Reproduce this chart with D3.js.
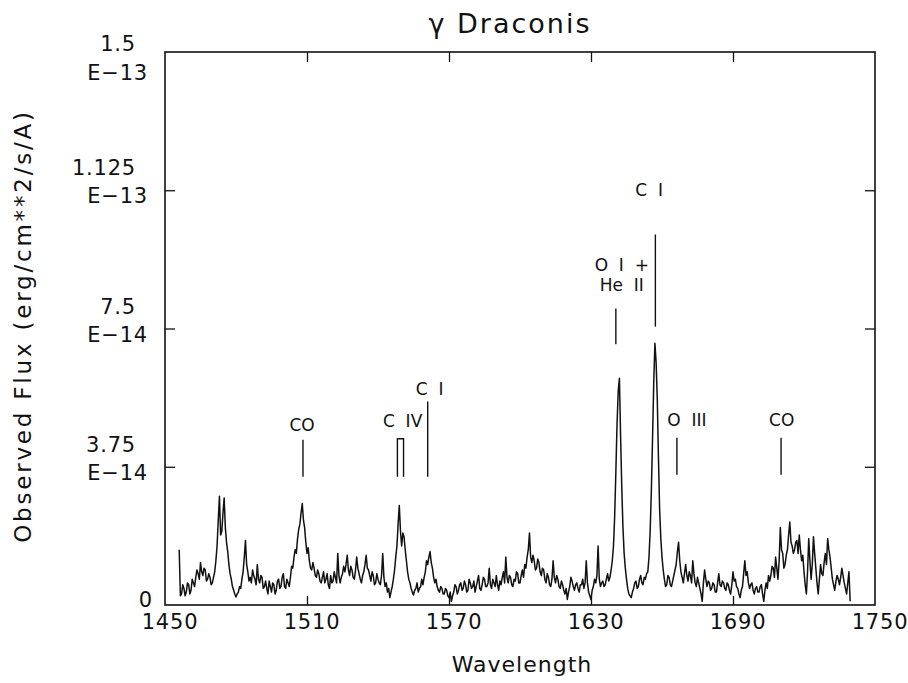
<!DOCTYPE html>
<html>
<head>
<meta charset="utf-8">
<script src="https://cdn.jsdelivr.net/npm/d3@7"></script>
<style>
  html, body { margin: 0; padding: 0; background: #fff; }
  svg { display: block; }
  text { font-family: "DejaVu Sans", sans-serif; fill: #111; }
</style>
</head>
<body>
<svg id="chart" width="908" height="683"></svg>
<script>
// ---------- DATA ----------
const chartTitle = "\u03b3 Draconis";
const xTitle = "Wavelength";
const yTitle = "Observed Flux (erg/cm**2/s/A)";

// sampling grid of the spectrum (Angstrom)
const wavelengths = d3.range(1456, 1740, 0.5);
// observed flux, in units of 1e-14 erg/cm^2/s/A
const flux = [
  1.5, 0.25, 0.3, 0.55, 0.45, 0.25, 0.35, 0.6, 0.55, 0.3, 0.4, 0.7, 0.6, 0.5, 0.75, 0.95, 0.85, 0.7, 1.15, 0.9,
  0.8, 1.0, 0.95, 0.65, 0.7, 0.85, 0.75, 0.55, 0.6, 0.75, 0.9, 1.2, 1.6, 2.3, 2.95, 1.9, 2.0, 2.5, 2.9, 2.1,
  1.7, 1.45, 1.1, 0.85, 0.7, 0.5, 0.4, 0.3, 0.22, 0.3, 0.35, 0.5, 0.45, 0.7, 0.9, 1.3, 1.75, 1.1, 0.9, 0.65,
  0.75, 0.6, 0.95, 0.8, 0.7, 0.55, 1.1, 0.7, 0.6, 0.8, 0.75, 0.45, 0.5, 0.65, 0.45, 0.3, 0.65, 0.5, 0.35, 0.6,
  0.55, 0.3, 0.4, 0.65, 0.7, 0.45, 0.5, 0.75, 0.85, 0.5, 0.45, 0.7, 0.6, 0.5, 0.75, 1.05, 1.0, 1.3, 1.5, 1.4,
  1.8, 2.05, 2.2, 2.5, 2.75, 2.3, 2.1, 1.7, 1.4, 1.55, 1.2, 1.0, 0.95, 1.15, 1.0, 0.8, 0.75, 0.95, 0.85, 0.65,
  0.6, 0.75, 0.9, 0.6, 0.7, 0.85, 0.55, 0.45, 0.8, 0.6, 0.65, 0.9, 0.75, 0.6, 1.4, 0.8, 0.6, 0.75, 0.85, 1.05,
  0.9, 1.1, 1.35, 0.95, 0.8, 1.05, 0.95, 0.75, 0.7, 0.95, 1.3, 1.0, 0.85, 0.7, 0.6, 0.8, 0.9, 1.1, 1.35, 1.0,
  0.95, 0.8, 0.65, 0.9, 0.8, 0.55, 0.6, 0.85, 0.7, 0.6, 0.55, 0.8, 1.4, 0.75, 0.5, 0.6, 0.35, 0.45, 0.2, 0.35,
  0.5, 0.7, 0.95, 1.3, 1.6, 2.2, 2.7, 2.0, 1.6, 1.95, 1.85, 1.5, 1.2, 0.9, 0.7, 0.6, 0.45, 0.35, 0.27, 0.4,
  0.45, 0.6, 0.35, 0.45, 0.5, 0.7, 0.55, 0.75, 0.9, 1.2, 1.1, 1.3, 1.45, 1.15, 1.0, 0.75, 0.6, 0.7, 0.5, 0.4,
  0.35, 0.5, 0.45, 0.3, 0.3, 0.45, 0.4, 0.25, 0.2, 0.35, 0.1, 0.25, 0.35, 0.55, 0.5, 0.3, 0.4, 0.55, 0.6, 0.4,
  0.45, 0.65, 0.55, 0.35, 0.4, 0.7, 0.6, 0.45, 0.5, 0.65, 0.35, 0.5, 0.65, 0.8, 0.45, 0.4, 0.55, 0.75, 0.7, 0.5,
  0.5, 0.6, 1.0, 0.55, 0.45, 0.7, 0.6, 0.5, 0.8, 0.55, 0.4, 0.65, 0.55, 0.75, 0.9, 0.6, 1.3, 0.75, 0.6, 0.8,
  0.75, 0.55, 0.5, 0.7, 0.65, 0.9, 0.85, 0.6, 0.6, 0.8, 0.95, 0.75, 1.1, 1.0, 1.3, 1.5, 1.95, 1.3, 1.15, 1.35,
  1.2, 0.95, 1.0, 1.25, 1.15, 0.9, 0.8, 1.0, 0.95, 0.7, 0.6, 0.85, 0.75, 0.55, 0.5, 0.7, 1.2, 0.75, 0.6, 0.8,
  0.7, 0.5, 0.45, 0.65, 0.55, 0.4, 0.3, 0.45, 0.15, 0.35, 0.5, 0.75, 0.65, 0.5, 0.4, 0.55, 0.6, 0.45, 0.35, 0.55,
  0.55, 0.7, 0.45, 0.6, 1.2, 0.6, 0.35, 0.25, 0.15, 0.4, 0.5, 0.7, 0.6, 0.8, 1.6, 0.7, 0.5, 0.6, 0.65, 0.5,
  0.55, 0.7, 0.85, 0.65, 0.75, 0.95, 1.2, 1.6, 2.4, 3.6, 4.9, 5.8, 6.15, 4.6, 3.2, 2.1, 1.4, 1.0, 0.7, 0.45,
  0.3, 0.25, 0.2, 0.35, 0.45, 0.6, 0.65, 0.45, 0.5, 0.7, 0.8, 0.6, 0.55, 0.75, 0.7, 0.85, 0.9, 1.3, 2.0, 3.1,
  4.5, 6.0, 7.1, 6.6, 5.6, 4.0, 2.6, 1.8, 1.3, 0.95, 0.7, 0.5, 0.55, 0.8, 0.75, 0.55, 0.5, 0.65, 0.8, 0.95,
  1.1, 1.45, 1.7, 1.2, 0.9, 0.75, 0.6, 0.85, 1.1, 0.8, 0.65, 0.9, 0.8, 0.6, 1.2, 0.85, 0.6, 0.5, 0.75, 0.6,
  0.45, 0.3, 0.1, 0.6, 0.95, 0.7, 0.5, 0.65, 0.6, 0.4, 0.45, 0.6, 0.55, 0.35, 0.35, 0.6, 0.85, 0.55, 0.5, 0.65,
  0.6, 0.45, 0.4, 0.6, 0.55, 0.4, 0.3, 0.55, 0.9, 0.65, 0.7, 0.5, 0.45, 0.3, 0.2, 0.4, 0.5, 0.85, 1.2, 0.8,
  0.9, 0.6, 0.45, 0.55, 0.6, 0.4, 0.3, 0.45, 0.5, 0.35, 0.35, 0.5, 0.55, 0.3, 0.1, 0.4, 0.6, 0.45, 0.8, 0.65,
  0.8, 1.05, 1.0, 0.75, 1.3, 1.0, 0.7, 1.2, 2.1, 1.5, 1.4, 1.0, 1.1, 1.35, 1.5, 1.9, 2.25, 1.7, 1.6, 1.4,
  1.5, 1.7, 1.75, 1.4, 1.9, 1.5, 1.2, 1.35, 0.9, 0.55, 0.3, 0.9, 1.8, 1.2, 0.7, 1.1, 1.85, 1.4, 1.0, 0.6,
  0.3, 0.7, 1.1, 0.85, 0.8, 1.15, 1.4, 1.1, 1.8, 1.5, 1.3, 1.0, 0.7, 0.55, 0.4, 0.65, 0.8, 0.7, 0.55, 0.75,
  1.0, 0.8, 0.6, 0.45, 0.3, 0.6, 0.9, 0.1
];

const xTicks = [1450, 1510, 1570, 1630, 1690, 1750];
const yTicks = [0, 3.75, 7.5, 11.25, 15];            // units of 1e-14
const yTickMantissa = ["0", "3.75", "7.5", "1.125", "1.5"];
const yTickExponent = ["", "E\u221214", "E\u221214", "E\u221213", "E\u221213"];

// line identifications: marker wavelength(s), marker extent (flux), label text, label anchor (wavelength, flux)
const lineIds = [
  { name: ["CO"],            lam: [1508.3],          f0: 3.48, f1: 4.48, labLam: 1507.9, labF: [4.89] },
  { name: ["C  IV"],         lam: [1548.2, 1550.8],  f0: 3.48, f1: 4.51, labLam: 1550.4, labF: [5.0] },
  { name: ["C  I"],          lam: [1561.0],          f0: 3.48, f1: 5.52, labLam: 1561.8, labF: [5.87] },
  { name: ["O  I  +", "He  II"], lam: [1640.5],      f0: 7.07, f1: 8.04, labLam: 1643.0, labF: [9.21, 8.67] },
  { name: ["C  I"],          lam: [1657.2],          f0: 7.55, f1: 10.05, labLam: 1654.6, labF: [11.25] },
  { name: ["O  III"],        lam: [1666.3],          f0: 3.53, f1: 4.54, labLam: 1670.5, labF: [5.03] },
  { name: ["CO"],            lam: [1710.3],          f0: 3.53, f1: 4.54, labLam: 1710.6, labF: [5.03] }
];

// ---------- CHART ----------
const svg = d3.select("#chart");
const L = 165, R = 875, T = 52, B = 605;
const x = d3.scaleLinear().domain([1450, 1750]).range([L, R]);
const y = d3.scaleLinear().domain([0, 15]).range([B, T]);

// title
svg.append("text").attr("x", 510).attr("y", 33).attr("text-anchor", "middle")
  .style("font-size", "27px").style("letter-spacing", "2px").text(chartTitle);

// spectrum
const line = d3.line().x((d, i) => x(wavelengths[i])).y(d => y(d));
svg.append("path").datum(flux).attr("d", line)
  .attr("fill", "none").attr("stroke", "#111").attr("stroke-width", 1.5)
  .attr("stroke-linejoin", "round");

// frame
svg.append("rect").attr("x", L).attr("y", T).attr("width", R - L).attr("height", B - T)
  .attr("fill", "none").attr("stroke", "#111").attr("stroke-width", 1.6);

// axes ticks (inward)
function styleAxis(g) {
  g.select(".domain").remove();
  g.selectAll(".tick line").attr("stroke", "#111").attr("stroke-width", 1.3);
}
const innerX = xTicks.slice(1, -1);
const innerY = yTicks.slice(1, -1);
svg.append("g").attr("transform", `translate(0,${B})`)
  .call(d3.axisBottom(x).tickValues(innerX).tickSizeInner(-9).tickSizeOuter(0).tickFormat(""))
  .call(styleAxis);
svg.append("g").attr("transform", `translate(0,${T})`)
  .call(d3.axisTop(x).tickValues(innerX).tickSizeInner(-10).tickSizeOuter(0).tickFormat(""))
  .call(styleAxis);
svg.append("g").attr("transform", `translate(${L},0)`)
  .call(d3.axisLeft(y).tickValues(innerY).tickSizeInner(-10).tickSizeOuter(0).tickFormat(""))
  .call(styleAxis);
svg.append("g").attr("transform", `translate(${R},0)`)
  .call(d3.axisRight(y).tickValues(innerY).tickSizeInner(-10).tickSizeOuter(0).tickFormat(""))
  .call(styleAxis);

// x tick labels
svg.append("g").selectAll("text").data(xTicks).join("text")
  .attr("x", d => x(d) + 5).attr("y", 629).attr("text-anchor", "middle")
  .style("font-size", "21px").style("letter-spacing", "0.8px").text(d => d);

// y tick labels (two lines)
const yl = svg.append("g");
yTicks.forEach((v, i) => {
  const py = y(v);
  if (i === 0) {
    yl.append("text").attr("x", 152).attr("y", py + 2).attr("text-anchor", "end")
      .style("font-size", "21px").text(yTickMantissa[i]);
    return;
  }
  const top = i === yTicks.length - 1 ? py - 1 : py - 15;
  const bot = i === yTicks.length - 1 ? py + 28 : py + 13;
  yl.append("text").attr("x", 136).attr("y", top).attr("text-anchor", "end")
    .style("font-size", "21px").style("letter-spacing", "0.8px").text(yTickMantissa[i]);
  yl.append("text").attr("x", 148).attr("y", bot).attr("text-anchor", "end")
    .style("font-size", "21px").style("letter-spacing", "0.8px").text(yTickExponent[i]);
});

// axis titles
svg.append("text").attr("x", 522).attr("y", 672).attr("text-anchor", "middle")
  .style("font-size", "22px").style("letter-spacing", "1px").text(xTitle);
svg.append("text").attr("transform", "translate(31,326) rotate(-90)").attr("text-anchor", "middle")
  .style("font-size", "23px").style("letter-spacing", "2.8px").text(yTitle);

// line identification markers
const ids = svg.append("g");
lineIds.forEach(d => {
  if (d.lam.length === 2) {
    const p = d3.path();
    p.moveTo(x(d.lam[0]), y(d.f0));
    p.lineTo(x(d.lam[0]), y(d.f1));
    p.lineTo(x(d.lam[1]), y(d.f1));
    p.lineTo(x(d.lam[1]), y(d.f0));
    ids.append("path").attr("d", p.toString()).attr("fill", "none")
      .attr("stroke", "#111").attr("stroke-width", 1.4);
  } else {
    ids.append("line").attr("x1", x(d.lam[0])).attr("x2", x(d.lam[0]))
      .attr("y1", y(d.f0)).attr("y2", y(d.f1))
      .attr("stroke", "#111").attr("stroke-width", 1.4);
  }
  d.name.forEach((n, k) => {
    ids.append("text").attr("x", x(d.labLam)).attr("y", y(d.labF[k]) + 6)
      .attr("text-anchor", "middle").style("font-size", "17px")
      .attr("xml:space", "preserve").style("white-space", "pre").text(n);
  });
});
</script>
</body>
</html>
